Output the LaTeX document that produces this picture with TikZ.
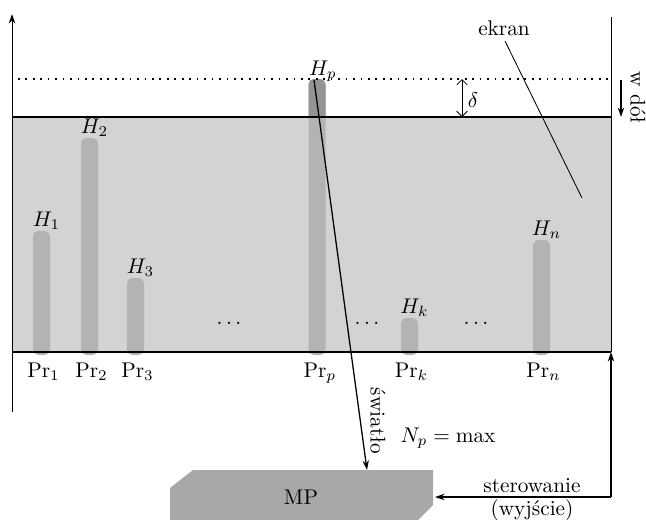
\documentclass[tikz,border=0pt]{standalone}
\usepackage{fontspec}
\usepackage{tikz}
\usetikzlibrary{arrows.meta, positioning}
\definecolor{ekrangray}{HTML}{D2D3D5}
\definecolor{bargray}{HTML}{B2B3B5}
\definecolor{bardark}{HTML}{939496}
\definecolor{mpgray}{HTML}{A7A8AA}

\begin{document}
\begin{tikzpicture}[
    x=0.47pt, y=-0.47pt,
    line/.style={-{Stealth[length=4.5pt,width=3pt]}, semithick},
    bar/.style={fill=bargray, rounded corners=2.5pt},
    hlbl/.style={anchor=base, inner sep=0pt},
    prlbl/.style={anchor=base, inner sep=0pt}
]
\useasboundingbox (0,0) rectangle (646,520);

% Screen
\fill[ekrangray] (12,117) rectangle (611,352);

% Columns
\foreach \cx/\ctop/\cname in {41.5/231/1, 89.5/138/2, 135.5/278/3, 409.5/318/k, 541.5/240/n} {
  \fill[bar] (\cx-8.5,\ctop) rectangle (\cx+8.5,355);
  \node[hlbl] (h\cname) at (\cx+5,\ctop-5) {$H_\cname$};
  \node[prlbl] (pr\cname) at (\cx+2,377) {Pr$_\cname$};
}
\fill[bar] (308.5,79) rectangle (325.5,355);
\begin{scope}
  \clip (0,0) rectangle (646,117);
  \fill[bar, fill=bardark] (308.5,79) rectangle (325.5,355);
\end{scope}
\node[hlbl] (hp) at (323,75) {$H_p$};
\node[prlbl] (prp) at (320,377) {Pr$_p$};

% Screen edges and frame
\draw[semithick] (12,117) -- (611,117);
\draw[semithick] (12,352) -- (611,352);
\draw[-{Stealth[length=4.5pt,width=3pt]}] (12,412) -- (12,14);
\draw (611,17) -- (611,352);
\draw[line width=0.8pt, dash pattern=on 0.8pt off 2.7pt] (18,79) -- (611,79);

% Dots
\node (dots1) at (229,323) {$\ldots$};
\node (dots2) at (367,323) {$\ldots$};
\node (dots3) at (476,323) {$\ldots$};

% Labels
\node[anchor=base] (ekran) at (504,35) {ekran};
\coordinate (ekranend) at (582,198);
\draw (505,41) -- (ekranend);

\coordinate (dtop) at (462,79);
\coordinate (dbot) at (462,117);
\draw[{Straight Barb[length=2.5pt]}-{Straight Barb[length=2.5pt]}] (dtop) -- (dbot);
\node (delta) at (473,100) {$\delta$};

\node[rotate=-90] (wdol) at (638,98) {w dół};
\coordinate (dolA) at (621,80);
\coordinate (dolB) at (621,117);
\draw[line] (dolA) -- (dolB);

% Processor
\fill[mpgray] (193,470) -- (433,470) -- (433,505) -- (418,520) -- (170,520) -- (170,488) -- cycle;
\node (mp) at (301,497) {MP};

% Light and control
\coordinate (ptop) at (314,80);
\coordinate (mpin) at (367,470);
\draw[line] (ptop) -- (mpin);
\node[rotate=-90] (swiatlo) at (378,421) {światło};
\node[anchor=base] (np) at (448,442) {$N_p = \max$};

\coordinate (ster) at (611,497);
\coordinate (mpright) at (435,497);
\coordinate (ekranbot) at (611,352);
\draw[line] (ster) -- (mpright);
\draw[line] (ster) -- (ekranbot);
\node[anchor=base] (sterowanie) at (532,492) {sterowanie};
\node[anchor=base] (wyjscie) at (532,515) {(wyjście)};

\end{tikzpicture}
\end{document}
